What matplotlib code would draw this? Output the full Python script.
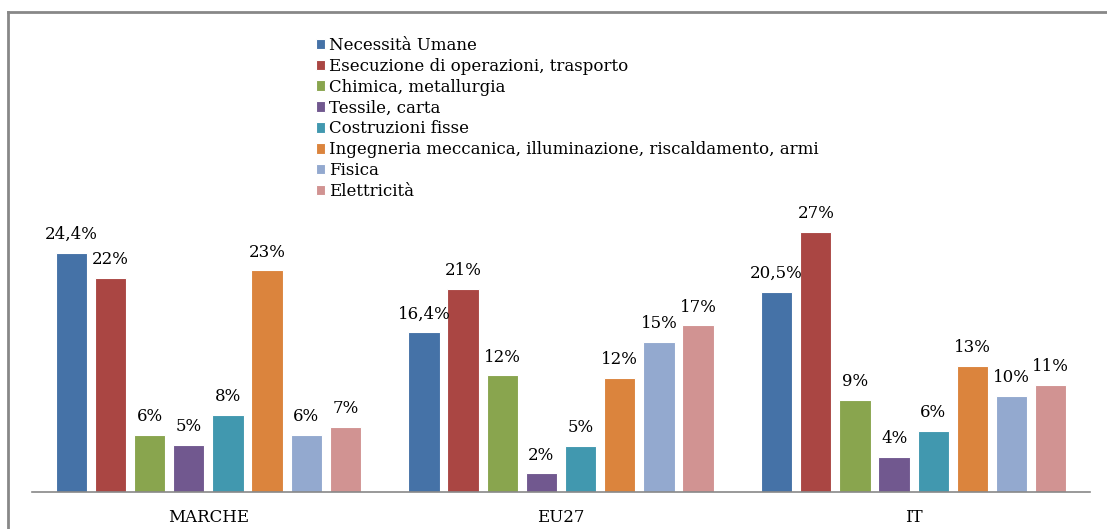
import numpy as np
import matplotlib.pyplot as plt
from matplotlib.lines import Line2D

# dati
regioni = ["MARCHE", "EU27", "IT"]
settori = ["Necessità Umane",
           "Esecuzione di operazioni, trasporto",
           "Chimica, metallurgia",
           "Tessile, carta",
           "Costruzioni fisse",
           "Ingegneria meccanica, illuminazione, riscaldamento, armi",
           "Fisica",
           "Elettricità"]
marche = [24.4, 21.8, 5.8, 4.8, 7.9, 22.6, 5.8, 6.6]
eu27 = [16.3, 20.7, 11.9, 1.9, 4.7, 11.6, 15.3, 17.0]
it = [20.4, 26.5, 9.4, 3.6, 6.2, 12.9, 9.8, 10.9]
etichette_marche = ["24,4%", "22%", "6%", "5%", "8%", "23%", "6%", "7%"]
etichette_eu27 = ["16,4%", "21%", "12%", "2%", "5%", "12%", "15%", "17%"]
etichette_it = ["20,5%", "27%", "9%", "4%", "6%", "13%", "10%", "11%"]

colori = ["#4572A7", "#AA4643", "#89A54E", "#71588F",
          "#4198AF", "#DB843D", "#93A9CF", "#D19392"]

plt.rcParams['font.family'] = ['DejaVu Serif']

valori = np.array([marche, eu27, it])          # righe = regioni
etichette = [etichette_marche, etichette_eu27, etichette_it]

fig = plt.figure(figsize=(11.07, 5.29), dpi=100)
ax = fig.add_axes([32/1107, 1 - 492/529, 1058/1107, 451/529])

x = np.arange(len(regioni))
passo = 0.111
larghezza = 0.089
for i, nome in enumerate(settori):
    pos = x + (i - 3.5) * passo
    barre = ax.bar(pos, valori[:, i], larghezza, color=colori[i],
                   edgecolor="white", linewidth=0.8, label=nome)
    for j, b in enumerate(barre):
        ax.text(b.get_x() + b.get_width()/2, b.get_height() + 1.0,
                etichette[j][i], ha="center", va="bottom", fontsize=12)

ax.set_xlim(-0.5, 2.5)
ax.set_ylim(0, 46)
ax.set_yticks([])
ax.set_xticks(x)
ax.set_xticklabels(regioni, fontsize=12)
ax.tick_params(axis="x", length=0, pad=12)
for s in ["top", "right", "left"]:
    ax.spines[s].set_visible(False)
ax.spines["bottom"].set_color("#888888")
ax.spines["bottom"].set_linewidth(1.2)

ax.legend(loc="upper left", bbox_to_anchor=(316/1107, 1 - 37/529),
          bbox_transform=fig.transFigure, frameon=False, fontsize=12,
          handlelength=0.55, handleheight=0.6, handletextpad=0.25,
          labelspacing=0.23, borderpad=0, borderaxespad=0)

# cornice del grafico (solo lato sinistro e superiore visibili)
fig.add_artist(Line2D([8/1107, 8/1107], [0, 1 - 12/529], color="#888888", linewidth=2))
fig.add_artist(Line2D([8/1107, 1], [1 - 12/529, 1 - 12/529], color="#888888", linewidth=2))

plt.savefig("out.png")
